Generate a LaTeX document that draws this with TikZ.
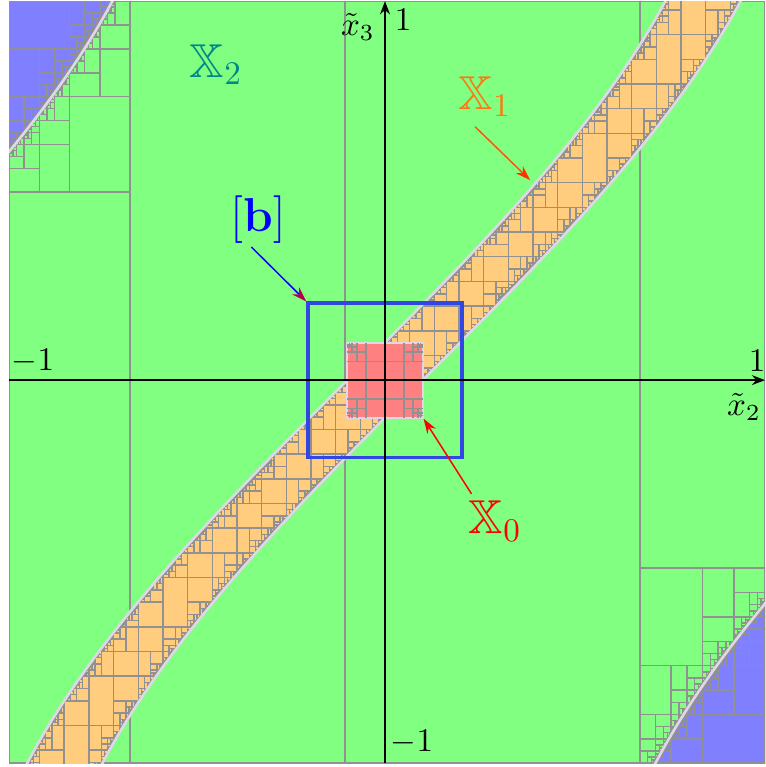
\documentclass[tikz,border=0pt]{standalone}
\usepackage{amsmath,amssymb}
\usetikzlibrary{arrows.meta}

\definecolor{dombg}{RGB}{128,255,128}
\definecolor{bandfill}{RGB}{255,205,125}
\definecolor{outfill}{RGB}{128,128,255}
\definecolor{initfill}{RGB}{255,128,128}
\definecolor{paveline}{RGB}{145,145,145}
\definecolor{edgefill}{RGB}{222,215,230}
\definecolor{bblue}{RGB}{50,70,225}
\definecolor{xonecol}{RGB}{255,120,20}
\definecolor{xtwocol}{RGB}{0,135,135}

\newcommand\halfw{0.1}   % half width of the band
\newcommand\minw{0.008}  % smallest box

% bisect a box, or leave it as a boundary box
\newcommand\pvsplit[5]{%
	\pgfmathtruncatemacro\pvsmall{max(\bw,\bh)<\minw}%
	\ifnum\pvsmall=0
		\ifdim\bw pt<\bh pt
			\pgfmathsetmacro\pvmid{(#4+#5)/2}%
			\edef\pvnext{\noexpand#1{#2}{#3}{#4}{\pvmid}\noexpand#1{#2}{#3}{\pvmid}{#5}}%
		\else
			\pgfmathsetmacro\pvmid{(#2+#3)/2}%
			\edef\pvnext{\noexpand#1{#2}{\pvmid}{#4}{#5}\noexpand#1{\pvmid}{#3}{#4}{#5}}%
		\fi
	\fi}

% X1 : |x2 - sin x3| <= 0.1
\newcommand\paveband[4]{%
	\begingroup
	\pgfmathsetmacro\flo{#1-sin(#4 r)}%
	\pgfmathsetmacro\fhi{#2-sin(#3 r)}%
	\pgfmathtruncatemacro\pvcode{(\flo>-\halfw && \fhi<\halfw) ? 1 : ((\flo>\halfw || \fhi<-\halfw) ? 0 : 2)}%
	\pgfmathsetmacro\bw{#2-#1}%
	\pgfmathsetmacro\bh{#4-#3}%
	\let\pvnext\relax
	\ifcase\pvcode
	\or \path[inbox] (#1,#3) rectangle (#2,#4);%
	\or \pvsplit\paveband{#1}{#2}{#3}{#4}%
	\fi
	\pvnext
	\endgroup}

% X2 : |x2 - sin x3| <= pi/2
\newcommand\pavedom[4]{%
	\begingroup
	\pgfmathsetmacro\flo{#1-sin(#4 r)}%
	\pgfmathsetmacro\fhi{#2-sin(#3 r)}%
	\pgfmathtruncatemacro\pvcode{(\flo>-pi/2 && \fhi<pi/2) ? 1 : ((\flo>pi/2 || \fhi<-pi/2) ? 0 : 2)}%
	\pgfmathsetmacro\bw{#2-#1}%
	\pgfmathsetmacro\bh{#4-#3}%
	\let\pvnext\relax
	\ifcase\pvcode
		\path[outbox] (#1,#3) rectangle (#2,#4);%
	\or \path[dombox] (#1,#3) rectangle (#2,#4);%
	\or \pvsplit\pavedom{#1}{#2}{#3}{#4}%
	\fi
	\pvnext
	\endgroup}

\begin{document}
\begin{tikzpicture}[x=4cm,y=4cm,
	boxline/.style={draw=paveline, line width=0.45pt},
	inbox/.style={boxline, fill=bandfill},
	dombox/.style={boxline, fill=dombg},
	outbox/.style={boxline, fill=outfill},
	edgeline/.style={draw=edgefill, line width=0.8pt},
	axis/.style={draw=black, line width=0.5pt, -{Stealth[length=4pt,width=3pt]}},
	lbl/.style={font=\Large, inner sep=1pt},
	tick/.style={inner sep=1pt},
	pointer/.style={line width=0.45pt, -{Stealth[length=4.5pt,width=3pt]}},
	]
	\useasboundingbox (-1.024,-1.029) rectangle (1.011,1.011);

	\begin{scope}
		\clip (-1,-1.019) rectangle (1.011,1.008);
		\fill[dombg] (-1,-1.019) rectangle (1.011,1.008);
		% outside of X2 and the band X1
		\fill[outfill] plot[domain=0.4:1.1, samples=30, variable=\t] ({sin(\t r)-pi/2},\t) -- (-1.1,1.1) -- (-1.1,0.4) -- cycle;
		\fill[outfill] plot[domain=-1.1:-0.4, samples=30, variable=\t] ({sin(\t r)+pi/2},\t) -- (1.1,-0.4) -- (1.1,-1.1) -- cycle;
		\fill[bandfill] plot[domain=-1.1:1.1, samples=80, variable=\t] ({sin(\t r)-\halfw},\t)
			-- plot[domain=1.1:-1.1, samples=80, variable=\t] ({sin(\t r)+\halfw},\t) -- cycle;
		% X2 paving in the two corners
		\pavedom{-1}{-0.678}{0.5}{1.008}
		\pavedom{0.678}{1.011}{-1.019}{-0.5}
		\draw[boxline] (-1,-1.019) rectangle (1.011,1.008);
		\draw[boxline] (-0.678,-1.019) -- (-0.678,1.008);
		\draw[boxline] (-0.106,-1.019) -- (-0.106,1.008);
		\draw[boxline] (0.678,-1.019) -- (0.678,1.008);
		\draw[boxline] (-1,0.5) -- (-0.678,0.5);
		\draw[boxline] (0.678,-0.5) -- (1.011,-0.5);
		% X1 paving
		\paveband{-1.05}{1.05}{-1.05}{1.05}
		% boundaries
		\draw[edgeline] plot[domain=0.4:1.1, samples=30, variable=\t] ({sin(\t r)-pi/2},\t);
		\draw[edgeline] plot[domain=-1.1:-0.4, samples=30, variable=\t] ({sin(\t r)+pi/2},\t);
		\draw[edgeline] plot[domain=-1.1:1.1, samples=80, variable=\t] ({sin(\t r)-\halfw},\t);
		\draw[edgeline] plot[domain=-1.1:1.1, samples=80, variable=\t] ({sin(\t r)+\halfw},\t);
	\end{scope}

	% X0
	\node[fill=initfill, draw=edgefill, line width=0.6pt, minimum size=0.8cm, inner sep=0] (x0sq) at (0,0) {};
	\foreach \sx in {-1,1}
		\foreach \sy in {-1,1}
			\foreach \a/\m in {0.05/0.075, 0.075/0.0875, 0.0875/0.09375} {
				\draw[boxline] (\sx*\m,\sy*\a) -- (\sx*\m,\sy*0.1);
				\draw[boxline] (\sx*\a,\sy*\m) -- (\sx*0.1,\sy*\m);
			}
	\draw[boxline] (-0.05,-0.1) -- (-0.05,0.1);
	\draw[boxline] (0.05,-0.1) -- (0.05,0.1);
	\draw[boxline] (-0.1,-0.05) -- (0.1,-0.05);
	\draw[boxline] (-0.1,0.05) -- (0.1,0.05);

	% [b]
	\node[draw=bblue, line width=1pt, minimum size=1.64cm, inner sep=0] (bbox) at (0,0) {};

	% axes
	\coordinate (xmin) at (-1,0);
	\coordinate (xmax) at (1.011,0);
	\coordinate (ymin) at (0,-1.019);
	\coordinate (ymax) at (0,1.008);
	\draw[axis] (xmin) -- (xmax);
	\draw[axis] (ymin) -- (ymax);
	\node[tick] (tl) at (-0.936,0.050) {$-1$};
	\node[tick] (tr) at (0.99,0.052) {$1$};
	\node[tick] (tt) at (0.048,0.957) {$1$};
	\node[tick] (tb) at (0.072,-0.963) {$-1$};
	\node[tick] (lx2axis) at (0.955,-0.072) {$\tilde{x}_2$};
	\node[tick] (lx3axis) at (-0.072,0.940) {$\tilde{x}_3$};

	% labels
	\node[lbl, text=xtwocol] (lx2) at (-0.449,0.838) {$\mathbb{X}_2$};
	\node[lbl, text=xonecol] (lx1) at (0.266,0.755) {$\mathbb{X}_1$};
	\node[lbl, text=red] (lx0) at (0.293,-0.375) {$\mathbb{X}_0$};
	\node[lbl, text=blue] (lb) at (-0.338,0.428) {$[\mathbf{b}]$};

	\coordinate (x1pt) at (0.386,0.532);
	\draw[pointer, draw=xonecol!70!red, -{Stealth[length=4.5pt,width=3pt,color=red!60!orange]}] ([xshift=-3pt,yshift=-2pt]lx1.south) -- (x1pt);
	\draw[pointer, draw=blue, -{Stealth[length=4.5pt,width=3pt,color=red!70!blue]}] ([xshift=-2pt]lb.south) -- (bbox.north west);
	\draw[pointer, draw=red] ([xshift=2pt,yshift=1pt]lx0.north west) -- (x0sq.south east);
\end{tikzpicture}
\end{document}
